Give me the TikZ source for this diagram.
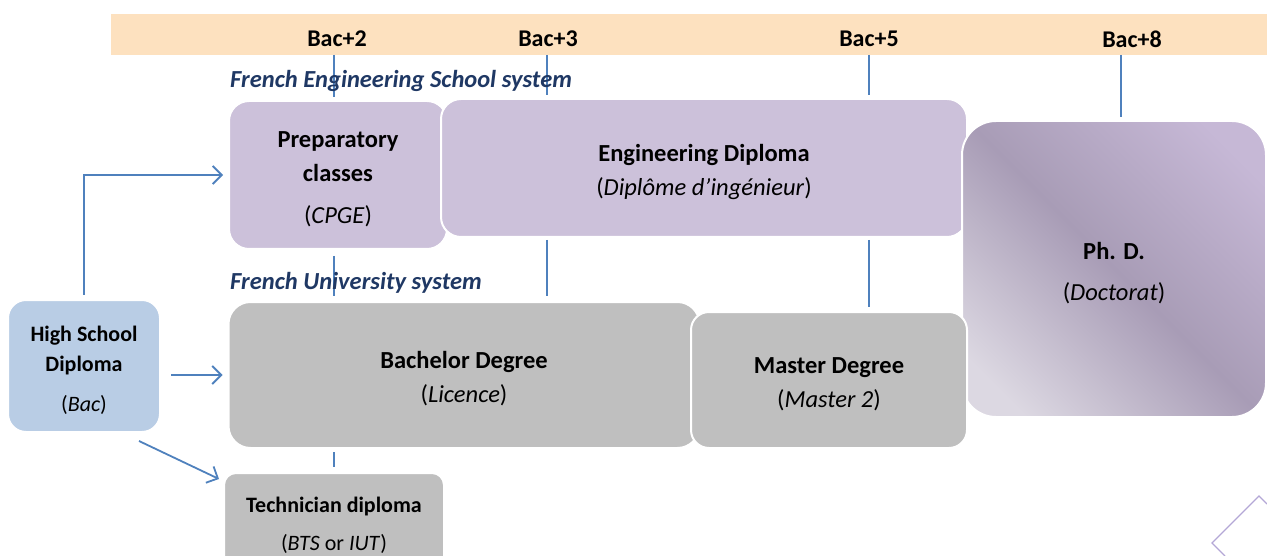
\documentclass[tikz,border=0pt]{standalone}
\usepackage{fontspec}
\setmainfont{Carlito}
\usetikzlibrary{arrows.meta}
\definecolor{band}{RGB}{253,225,191}
\definecolor{lav}{RGB}{204,193,218}
\definecolor{grey}{RGB}{191,191,191}
\definecolor{lblue}{RGB}{185,205,229}
\definecolor{lineblue}{RGB}{79,129,189}
\definecolor{titleblue}{RGB}{31,56,100}
\definecolor{phdA}{RGB}{220,216,226}
\definecolor{phdB}{RGB}{168,156,182}
\definecolor{phdC}{RGB}{198,184,214}
\definecolor{diam}{RGB}{180,167,214}
\pgfdeclarehorizontalshading{phdshade}{100bp}{color(0bp)=(phdA); color(22bp)=(phdA); color(50bp)=(phdB); color(78bp)=(phdC); color(100bp)=(phdC)}
\tikzset{
  big/.style={font=\fontsize{24.5}{34}\selectfont, align=center, inner sep=0pt},
  small/.style={font=\fontsize{22}{30}\selectfont, align=center, inner sep=0pt},
  box/.style={draw=white, line width=2pt, inner sep=0pt},
  tick/.style={draw=lineblue, line width=1.8pt},
  arr/.style={draw=lineblue, line width=1.8pt, -{Straight Barb[length=9pt,width=18pt,line width=1.8pt]}},
  head/.style={font=\fontsize{24}{28}\selectfont\bfseries},
  sys/.style={font=\fontsize{24.5}{28}\selectfont\bfseries\itshape, text=titleblue, anchor=west, inner sep=0pt}
}
\begin{document}
\begin{tikzpicture}[x=1pt,y=-1pt]
\useasboundingbox (0,0) rectangle (1267,556);
\clip (0,0) rectangle (1267,556);
% band
\fill[band] (111,14) rectangle (1267,55);
\node[head] (b2) at (337,39) {Bac+2};
\node[head] (b3) at (548,39) {Bac+3};
\node[head] (b5) at (869,39) {Bac+5};
\node[head] (b8) at (1132,39) {Bac+8};
% ticks
\coordinate (t2a) at (334,55); \coordinate (t2b) at (334,97);
\coordinate (t3a) at (547,55); \coordinate (t3b) at (547,95);
\coordinate (t5a) at (869,55); \coordinate (t5b) at (869,95);
\coordinate (t8a) at (1121,55); \coordinate (t8b) at (1121,117);
\draw[tick] (t2a) -- (t2b);
\draw[tick] (t3a) -- (t3b);
\draw[tick] (t5a) -- (t5b);
\draw[tick] (t8a) -- (t8b);
\coordinate (u2a) at (334,256); \coordinate (u2b) at (334,296);
\coordinate (u3a) at (547,240); \coordinate (u3b) at (547,296);
\coordinate (u5a) at (869,240); \coordinate (u5b) at (869,307);
\coordinate (v2a) at (334,452); \coordinate (v2b) at (334,467);
\draw[tick] (u2a) -- (u2b);
\draw[tick] (u3a) -- (u3b);
\draw[tick] (u5a) -- (u5b);
\draw[tick] (v2a) -- (v2b);
% system titles
\node[sys] (eng-sys) at (230,81) {French Engineering School system};
\node[sys] (uni-sys) at (230,283) {French University system};
% boxes
\node[box, fill=lav, rounded corners=20pt, minimum width=218pt, minimum height=148pt] (prep) at (338,175) {};
\node[big] (prep-t) at ([yshift=-4pt]prep.center) {\textbf{Preparatory}\\\textbf{classes}\\[8pt](\textit{CPGE})};
\node[box, fill=lav, rounded corners=20pt, minimum width=526pt, minimum height=138pt] (eng) at (704,168) {};
\node[big] (eng-t) at ([yshift=-4pt]eng.center) {\textbf{Engineering Diploma}\\(\textit{Diplôme d’ingénieur})};
\node[box, shading=phdshade, shading angle=45, rounded corners=34pt, minimum width=304pt, minimum height=296pt] (phd) at (1114,269) {};
\node[big] (phd-t) at ([yshift=-4pt]phd.center) {\textbf{Ph. D.}\\[7pt](\textit{Doctorat})};
\node[box, fill=grey, rounded corners=22pt, minimum width=471pt, minimum height=146pt] (bach) at (464,375) {};
\node[big] (bach-t) at ([yshift=-4pt]bach.center) {\textbf{Bachelor Degree}\\(\textit{Licence})};
\node[box, fill=grey, rounded corners=18pt, minimum width=276pt, minimum height=136pt] (mast) at (829,380) {};
\node[big] (mast-t) at ([yshift=-4pt]mast.center) {\textbf{Master Degree}\\(\textit{Master 2})};
\node[box, fill=lblue, rounded corners=18pt, minimum width=152pt, minimum height=132pt] (hs) at (84,366) {};
\node[small] (hs-t) at ([yshift=-4pt]hs.center) {\textbf{High School}\\\textbf{Diploma}\\[10pt](\textit{Bac})};
\node[box, fill=grey, rounded corners=12pt, minimum width=220pt, minimum height=96pt] (tech) at (334,521) {};
\node[small] (tech-t) at ([yshift=-4pt]tech.center) {\textbf{Technician diploma}\\[8pt](\textit{BTS} or \textit{IUT})};
% arrows
\draw[arr, shorten <=4pt, shorten >=5pt] (hs.north) |- (prep.west);
\draw[arr] ([xshift=10pt]hs.east |- bach.west) -- ([xshift=-5pt]bach.west);
\draw[arr] ([shift={(-22,8)}]hs.south east) -- ([shift={(-4,7)}]tech.north west);
% decoration diamond
\draw[diam, line width=1.3pt] (1267,504) -- (1259,496) -- (1212,543) -- (1225,556);
\end{tikzpicture}
\end{document}
